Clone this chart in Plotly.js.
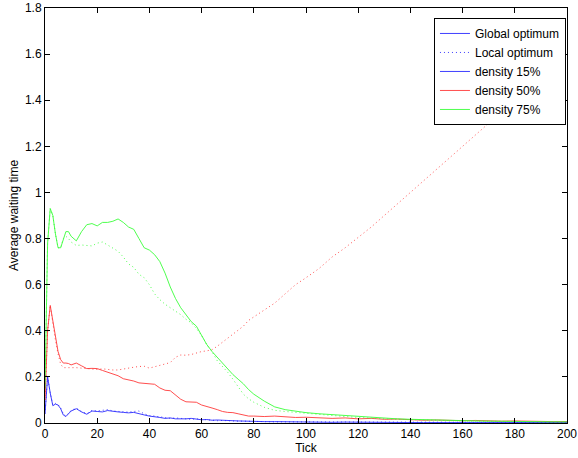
<!DOCTYPE html>
<html>
<head>
<meta charset="utf-8">
<script src="https://cdn.plot.ly/plotly-3.0.1.min.js"></script>
<style>html,body{margin:0;padding:0;background:#fff;}#chart{width:578px;height:458px;}</style>
</head>
<body>
<div id="chart"></div>
<script>
const ticks = [0,1,2,3,4,5,6,7,8,9,10,12,14,16,18,20,22,24,26,28,30,32,34,36,38,40,42,44,46,48,50,52,54,56,58,60,62,64,66,68,70,72,74,76,78,80,84,88,92,96,100,105,110,115,120,125,130,135,140,145,150,155,160,165,170,175,180,185,190,195,200];

const global15 = [0.04,0.20,0.13,0.075,0.082,0.078,0.062,0.035,0.028,0.04,0.052,0.062,0.048,0.038,0.052,0.05,0.048,0.054,0.05,0.048,0.046,0.044,0.046,0.042,0.035,0.03,0.028,0.024,0.02,0.022,0.018,0.017,0.018,0.02,0.016,0.014,0.015,0.012,0.013,0.011,0.01,0.01,0.009,0.008,0.008,0.007,0.006,0.006,0.005,0.004,0.004,0.004,0.003,0.004,0.003,0.003,0.002,0.003,0.002,0.002,0.002,0.002,0.002,0.002,0.002,0.002,0.002,0.002,0.002,0.002,0.002];
const local15 = [0.04,0.20,0.13,0.078,0.085,0.08,0.065,0.04,0.03,0.042,0.055,0.064,0.05,0.04,0.055,0.052,0.056,0.058,0.052,0.05,0.048,0.047,0.05,0.052,0.04,0.032,0.03,0.026,0.024,0.02,0.022,0.02,0.019,0.016,0.018,0.016,0.013,0.012,0.01,0.011,0.009,0.009,0.008,0.008,0.007,0.007,0.006,0.005,0.005,0.005,0.004,0.004,0.004,0.003,0.003,0.003,0.003,0.002,0.002,0.002,0.002,0.002,0.002,0.002,0.002,0.002,0.002,0.002,0.002,0.002,0.002];
const global50 = [0.10,0.40,0.51,0.44,0.37,0.31,0.275,0.26,0.26,0.258,0.252,0.26,0.248,0.236,0.237,0.236,0.228,0.22,0.21,0.205,0.192,0.188,0.182,0.174,0.172,0.171,0.168,0.152,0.142,0.14,0.12,0.103,0.092,0.09,0.09,0.078,0.07,0.065,0.058,0.05,0.046,0.045,0.04,0.036,0.03,0.03,0.028,0.03,0.026,0.024,0.025,0.022,0.02,0.022,0.018,0.02,0.016,0.017,0.014,0.012,0.013,0.011,0.01,0.011,0.009,0.008,0.009,0.007,0.008,0.006,0.006];
const local50 = [0.10,0.40,0.51,0.43,0.36,0.30,0.255,0.24,0.24,0.242,0.24,0.24,0.238,0.235,0.232,0.232,0.235,0.232,0.23,0.23,0.235,0.24,0.242,0.245,0.246,0.238,0.245,0.252,0.256,0.262,0.285,0.295,0.294,0.297,0.305,0.31,0.313,0.318,0.333,0.35,0.37,0.385,0.40,0.42,0.445,0.46,0.49,0.52,0.56,0.60,0.63,0.67,0.72,0.76,0.805,0.85,0.90,0.95,1.0,1.05,1.1,1.15,1.2,1.25,1.3,1.35,1.40,1.45,1.50,1.55,1.60];
const global75 = [0.15,0.78,0.93,0.90,0.82,0.76,0.76,0.80,0.83,0.83,0.81,0.79,0.83,0.86,0.865,0.855,0.87,0.87,0.875,0.885,0.87,0.85,0.84,0.80,0.76,0.75,0.73,0.70,0.65,0.59,0.54,0.50,0.47,0.44,0.42,0.38,0.34,0.31,0.285,0.26,0.235,0.21,0.19,0.17,0.145,0.125,0.095,0.07,0.058,0.05,0.045,0.04,0.036,0.032,0.028,0.025,0.022,0.018,0.016,0.014,0.012,0.01,0.011,0.009,0.008,0.009,0.007,0.006,0.007,0.005,0.005];
const local75 = [0.15,0.78,0.93,0.90,0.82,0.76,0.76,0.80,0.81,0.80,0.785,0.77,0.772,0.77,0.768,0.78,0.785,0.772,0.76,0.745,0.72,0.69,0.675,0.645,0.63,0.60,0.56,0.535,0.515,0.50,0.485,0.47,0.45,0.435,0.41,0.38,0.34,0.31,0.27,0.245,0.22,0.19,0.155,0.125,0.105,0.09,0.068,0.055,0.05,0.046,0.04,0.035,0.03,0.028,0.024,0.02,0.018,0.016,0.014,0.012,0.012,0.01,0.009,0.008,0.008,0.007,0.006,0.006,0.005,0.005,0.004];

const xTicks = [0,20,40,60,80,100,120,140,160,180,200];
const yTicks = [0,0.2,0.4,0.6,0.8,1,1.2,1.4,1.6,1.8];

const BLUE = '#2a2aff', RED = '#ff3a3a', GREEN = '#3aff3a';
const W = 0.9;
const DOT = '1px,3px';

const traces = [
  {x: ticks, y: global15, mode: 'lines', name: 'Global optimum', line: {color: BLUE, width: W}},
  {x: ticks, y: local15, mode: 'lines', name: 'Local optimum', line: {color: BLUE, width: W, dash: DOT}},
  {x: [null], y: [null], mode: 'lines', name: 'density 15%', line: {color: BLUE, width: W}},
  {x: ticks, y: global50, mode: 'lines', name: 'density 50%', line: {color: RED, width: W}},
  {x: ticks, y: global75, mode: 'lines', name: 'density 75%', line: {color: GREEN, width: W}},
  {x: ticks, y: local50, mode: 'lines', name: 'local 50%', showlegend: false, line: {color: RED, width: W, dash: DOT}},
  {x: ticks, y: local75, mode: 'lines', name: 'local 75%', showlegend: false, line: {color: GREEN, width: W, dash: DOT}}
];

const FONT = 'Liberation Sans, Arial, sans-serif';
const axisCommon = {
  showline: true, linecolor: '#000', linewidth: 1, mirror: 'ticks',
  ticks: 'inside', ticklen: 5, tickcolor: '#000', tickwidth: 1,
  showgrid: false, zeroline: false,
  tickfont: {family: FONT, size: 12, color: '#000'}
};

const layout = {
  width: 578, height: 458,
  margin: {l: 45, r: 11, t: 8, b: 35},
  paper_bgcolor: '#fff', plot_bgcolor: '#fff',
  font: {family: FONT, size: 12, color: '#000'},
  xaxis: Object.assign({}, axisCommon, {
    range: [0, 200], tickvals: xTicks, ticktext: xTicks.map(String),
    title: {text: 'Tick', font: {size: 12}, standoff: 2}
  }),
  yaxis: Object.assign({}, axisCommon, {
    range: [0, 1.8], tickvals: yTicks, ticktext: yTicks.map(String),
    title: {text: 'Average waiting time', font: {size: 12}, standoff: 3}
  }),
  showlegend: true,
  legend: {
    x: 0.998, xanchor: 'right', y: 0.976, yanchor: 'top',
    bgcolor: '#fff', bordercolor: '#000', borderwidth: 1,
    font: {size: 12, color: '#000'}, traceorder: 'normal',
    tracegroupgap: 0, itemwidth: 30
  }
};

Plotly.newPlot('chart', traces, layout, {displayModeBar: false, staticPlot: true});
</script>
</body>
</html>
